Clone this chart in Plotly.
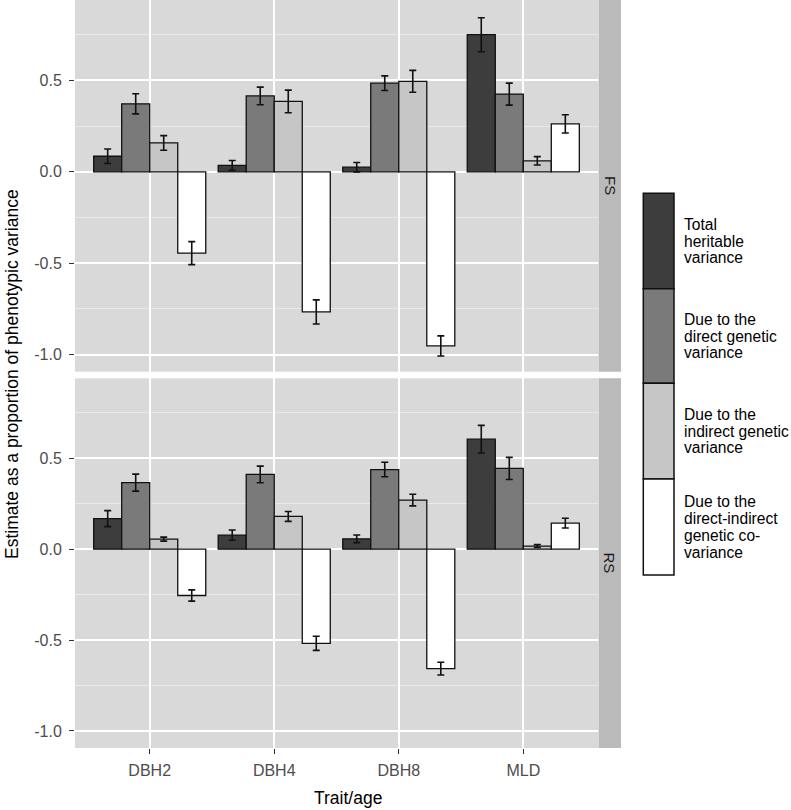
import plotly.graph_objects as go

traits = ["DBH2", "DBH4", "DBH8", "MLD"]
series_names = [
    "Total heritable variance",
    "Due to the direct genetic variance",
    "Due to the indirect genetic variance",
    "Due to the direct-indirect genetic co-variance",
]
legend_lines = [
    ["Total", "heritable", "variance"],
    ["Due to the", "direct genetic", "variance"],
    ["Due to the", "indirect genetic", "variance"],
    ["Due to the", "direct-indirect", "genetic co-", "variance"],
]
series_colors = ["#3d3d3d", "#7a7a7a", "#c6c6c6", "#ffffff"]

# FS estimates and error half-widths
fs_total = [0.085, 0.035, 0.025, 0.750]
fs_total_err = [0.040, 0.027, 0.026, 0.093]
fs_direct = [0.372, 0.415, 0.485, 0.425]
fs_direct_err = [0.055, 0.048, 0.040, 0.060]
fs_indirect = [0.158, 0.385, 0.495, 0.060]
fs_indirect_err = [0.040, 0.062, 0.060, 0.023]
fs_cov = [-0.445, -0.767, -0.953, 0.262]
fs_cov_err = [0.063, 0.066, 0.055, 0.050]

# RS estimates and error half-widths
rs_total = [0.168, 0.077, 0.057, 0.605]
rs_total_err = [0.044, 0.028, 0.021, 0.076]
rs_direct = [0.366, 0.411, 0.438, 0.444]
rs_direct_err = [0.047, 0.046, 0.040, 0.061]
rs_indirect = [0.055, 0.180, 0.270, 0.017]
rs_indirect_err = [0.011, 0.027, 0.032, 0.008]
rs_cov = [-0.255, -0.518, -0.657, 0.143]
rs_cov_err = [0.031, 0.039, 0.035, 0.027]

ytick_vals = [-1.0, -0.5, 0.0, 0.5]
ytick_text = ["-1.0", "-0.5", "0.0", "0.5"]
facets = ["FS", "RS"]

FONT = "Liberation Sans, Arial, Helvetica, sans-serif"
W, H = 791, 810
ML, MR, MT, MB = 75, 193, 0, 62
PW = W - ML - MR
PH = H - MT - MB


def px_x(p):
    return (p - ML) / PW


def px_y(p):
    return 1 - (p - MT) / PH


fig = go.Figure()

panels = [
    ("x", "y", [fs_total, fs_direct, fs_indirect, fs_cov],
     [fs_total_err, fs_direct_err, fs_indirect_err, fs_cov_err]),
    ("x2", "y2", [rs_total, rs_direct, rs_indirect, rs_cov],
     [rs_total_err, rs_direct_err, rs_indirect_err, rs_cov_err]),
]
for xa, ya, vals, errs in panels:
    for i in range(4):
        fig.add_trace(go.Bar(
            x=traits, y=vals[i], xaxis=xa, yaxis=ya,
            name=series_names[i], showlegend=False,
            offsetgroup=str(i),
            marker=dict(color=series_colors[i], line=dict(color="#111111", width=1.3)),
            error_y=dict(type="data", array=errs[i], visible=True,
                         color="#111111", thickness=1.6, width=3.5),
        ))

yr = [-1.094, 0.94]
common_y = dict(
    range=yr, tickvals=ytick_vals, ticktext=ytick_text,
    showgrid=True, gridcolor="#ffffff", gridwidth=1.6,
    minor=dict(tickvals=[-0.75, -0.25, 0.25, 0.75], showgrid=True,
               gridcolor="#e9e9e9", gridwidth=1.0),
    zeroline=False, ticks="outside", ticklen=5, tickwidth=1.3,
    tickcolor="#333333", ticklabelstandoff=4,
    tickfont=dict(family=FONT, size=16, color="#4d4d4d"),
    showline=False, fixedrange=True,
)
common_x = dict(
    type="category", categoryorder="array", categoryarray=traits,
    range=[-0.6, 3.6], showgrid=True, gridcolor="#ffffff", gridwidth=1.6,
    zeroline=False, showline=False, fixedrange=True,
)

top_dom = [px_y(371.7), 1.0]
bot_dom = [0.0, px_y(378.3)]

fig.update_layout(
    width=W, height=H,
    margin=dict(l=ML, r=MR, t=MT, b=MB),
    paper_bgcolor="#ffffff", plot_bgcolor="#d9d9d9",
    barmode="group", bargap=0.1, bargroupgap=0.0,
    showlegend=False,
    font=dict(family=FONT, color="#000000"),
    xaxis=dict(common_x, anchor="y", domain=[0, 1], showticklabels=False, ticks=""),
    yaxis=dict(common_y, anchor="x", domain=top_dom),
    xaxis2=dict(common_x, anchor="y2", domain=[0, 1], showticklabels=True,
                ticks="outside", ticklen=5, tickwidth=1.3, tickcolor="#333333",
                ticklabelstandoff=3,
                tickfont=dict(family=FONT, size=16, color="#4d4d4d")),
    yaxis2=dict(common_y, anchor="x2", domain=bot_dom),
)

shapes = []
annotations = []
strip_x0, strip_x1 = px_x(598.5), px_x(621)
for dom, lab in [(top_dom, facets[0]), (bot_dom, facets[1])]:
    shapes.append(dict(type="rect", xref="paper", yref="paper",
                       x0=strip_x0, x1=strip_x1, y0=dom[0], y1=dom[1],
                       fillcolor="#bababa", line=dict(width=0), layer="below"))
    annotations.append(dict(xref="paper", yref="paper",
                            x=(strip_x0 + strip_x1) / 2, y=(dom[0] + dom[1]) / 2,
                            xanchor="center", yanchor="middle",
                            text=lab, showarrow=False, textangle=90,
                            font=dict(family=FONT, size=15, color="#1a1a1a")))

# Manual legend with tall keys
key_edges = [193.3, 288.7, 383.3, 479.0, 575.0]
LINE_H = 16.7
for i in range(4):
    y0p, y1p = key_edges[i], key_edges[i + 1]
    shapes.append(dict(type="rect", xref="paper", yref="paper",
                       x0=px_x(643.3), x1=px_x(674), y0=px_y(y1p), y1=px_y(y0p),
                       fillcolor=series_colors[i], line=dict(color="#111111", width=1.5)))
    lines = legend_lines[i]
    mid = (y0p + y1p) / 2
    for j, ln in enumerate(lines):
        yc = mid + (j - (len(lines) - 1) / 2) * LINE_H
        annotations.append(dict(xref="paper", yref="paper",
                                x=px_x(682), y=px_y(yc),
                                xanchor="left", yanchor="middle", align="left",
                                text=ln, showarrow=False,
                                font=dict(family=FONT, size=15.6, color="#000000")))

# Axis titles
annotations.append(dict(xref="paper", yref="paper", x=px_x(12), y=px_y(374),
                        xanchor="center", yanchor="middle",
                        text="Estimate as a proportion of phenotypic variance",
                        showarrow=False, textangle=-90,
                        font=dict(family=FONT, size=17.5, color="#000000")))
annotations.append(dict(xref="paper", yref="paper", x=px_x(348), y=px_y(798),
                        xanchor="center", yanchor="middle",
                        text="Trait/age", showarrow=False,
                        font=dict(family=FONT, size=17.5, color="#000000")))

fig.update_layout(shapes=shapes, annotations=annotations)
fig.write_html("out.html", config={"displayModeBar": False},
               post_script="document.body.style.margin='0';")
